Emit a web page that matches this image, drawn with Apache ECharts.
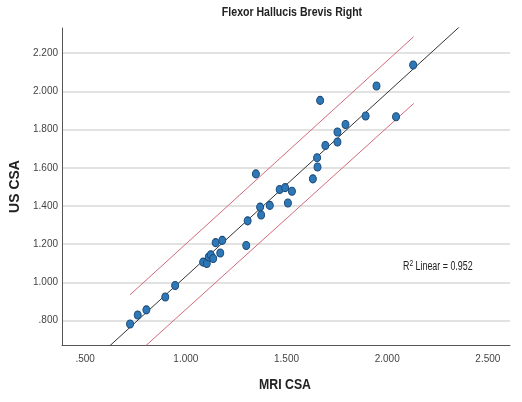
<!DOCTYPE html>
<html>
<head>
<meta charset="utf-8">
<script src="https://cdn.jsdelivr.net/npm/echarts@6/dist/echarts.min.js"></script>
<style>html,body{margin:0;padding:0;background:#fff}#c{width:522px;height:402px}</style>
</head>
<body>
<div id="c"></div>
<script>
// MRI CSA (x) vs US CSA (y)
const mriCSA = [0.723,0.761,0.804,0.898,0.947,1.086,1.104,1.114,1.124,1.136,1.171,1.148,1.181,1.300,1.307,1.348,1.369,1.374,1.417,1.466,1.493,1.527,1.507,1.631,1.654,1.652,1.667,1.693,1.753,1.753,1.793,1.893,2.044,1.947,2.129];
const usCSA  = [0.782,0.829,0.856,0.923,0.984,1.106,1.099,1.133,1.144,1.125,1.154,1.208,1.220,1.193,1.322,1.568,1.394,1.353,1.403,1.486,1.496,1.477,1.416,1.542,1.604,1.653,1.953,1.717,1.787,1.735,1.827,1.871,1.867,2.028,2.138];
// Fit line and prediction interval end points
const fitLineX = [0.40, 2.60];
const fitLineY = [0.454, 2.570];
const upperX = [0.723, 2.131];
const upperY = [0.935, 2.286];
const lowerX = [0.723, 2.132];
const lowerY = [0.594, 1.937];
const xTickValues = [0.5, 1.0, 1.5, 2.0, 2.5];
const yTickValues = [0.8, 1.0, 1.2, 1.4, 1.6, 1.8, 2.0, 2.2];
const titleText = 'Flexor Hallucis Brevis Right';
const xName = 'MRI CSA';
const yName = 'US CSA';
const rSquared = '0.952';

const FONT = '"Liberation Sans", Arial, sans-serif';
const fmt = v => { let s = Number(v).toFixed(3); return s.startsWith('0') ? s.slice(1) : s; };
const pairs = (xs, ys) => xs.map((x, i) => [x, ys[i]]);

const chart = echarts.init(document.getElementById('c'), null, {renderer: 'canvas'});
chart.setOption({
  animation: false,
  backgroundColor: '#fff',
  grid: {left: 60, right: 12, top: 28, bottom: 57, containLabel: false},
  xAxis: {
    type: 'value', min: 0.385, max: 2.61,
    axisLine: {show: true, onZero: false, lineStyle: {color: '#555', width: 1}},
    axisTick: {show: false, customValues: xTickValues},
    axisLabel: {customValues: xTickValues, formatter: fmt, fontSize: 10, color: '#444', margin: 9, fontFamily: FONT},
    splitLine: {show: false}
  },
  yAxis: {
    type: 'value', min: 0.672, max: 2.332,
    name: yName, nameLocation: 'middle', nameGap: 40, nameRotate: 90,
    nameTextStyle: {fontFamily: FONT, fontSize: 14, fontWeight: 'bold', color: '#222'},
    axisLine: {show: true, onZero: false, lineStyle: {color: '#555', width: 1}},
    axisTick: {show: false, customValues: yTickValues},
    axisLabel: {customValues: yTickValues, formatter: fmt, fontSize: 10, color: '#444', margin: 4, fontFamily: FONT},
    splitLine: {show: true, lineStyle: {color: '#d8d8d8', width: 1.5}}
  },
  series: [
    {type: 'line', data: pairs(fitLineX, fitLineY), symbol: 'none', clip: true, silent: true,
     lineStyle: {color: '#333', width: 1}, z: 3},
    {type: 'line', data: pairs(upperX, upperY), symbol: 'none', clip: true, silent: true,
     lineStyle: {color: '#d26a7c', width: 1}, z: 3},
    {type: 'line', data: pairs(lowerX, lowerY), symbol: 'none', clip: true, silent: true,
     lineStyle: {color: '#d26a7c', width: 1}, z: 3},
    {type: 'scatter', data: pairs(mriCSA, usCSA), symbol: 'circle', symbolSize: [7, 8],
     itemStyle: {color: '#2f78b8', borderColor: '#1b4a78', borderWidth: 1, opacity: 1}, z: 4}
  ],
  graphic: [
    {
      type: 'text', x: 292, y: 13, scaleX: 0.88,
      style: {text: titleText, fontFamily: FONT, fontSize: 12, fontWeight: 'bold', fill: '#222', align: 'center', verticalAlign: 'middle'}
    },
    {
      type: 'text', x: 285, y: 385, scaleX: 0.82,
      style: {text: xName, fontFamily: FONT, fontSize: 15, fontWeight: 'bold', fill: '#222', align: 'center', verticalAlign: 'middle'}
    },
    {
      type: 'text', x: 403, y: 267, scaleX: 0.74,
      style: {
        text: '{a|R}{s|2}{a| Linear = ' + rSquared + '}',
        verticalAlign: 'middle', align: 'left',
        rich: {
          a: {fontSize: 12, fontFamily: FONT, fill: '#222', color: '#222'},
          s: {fontSize: 9, fontFamily: FONT, fill: '#222', color: '#222', verticalAlign: 'top', padding: [0, 0, 6, 0]}
        }
      }
    }
  ]
});
</script>
</body>
</html>
